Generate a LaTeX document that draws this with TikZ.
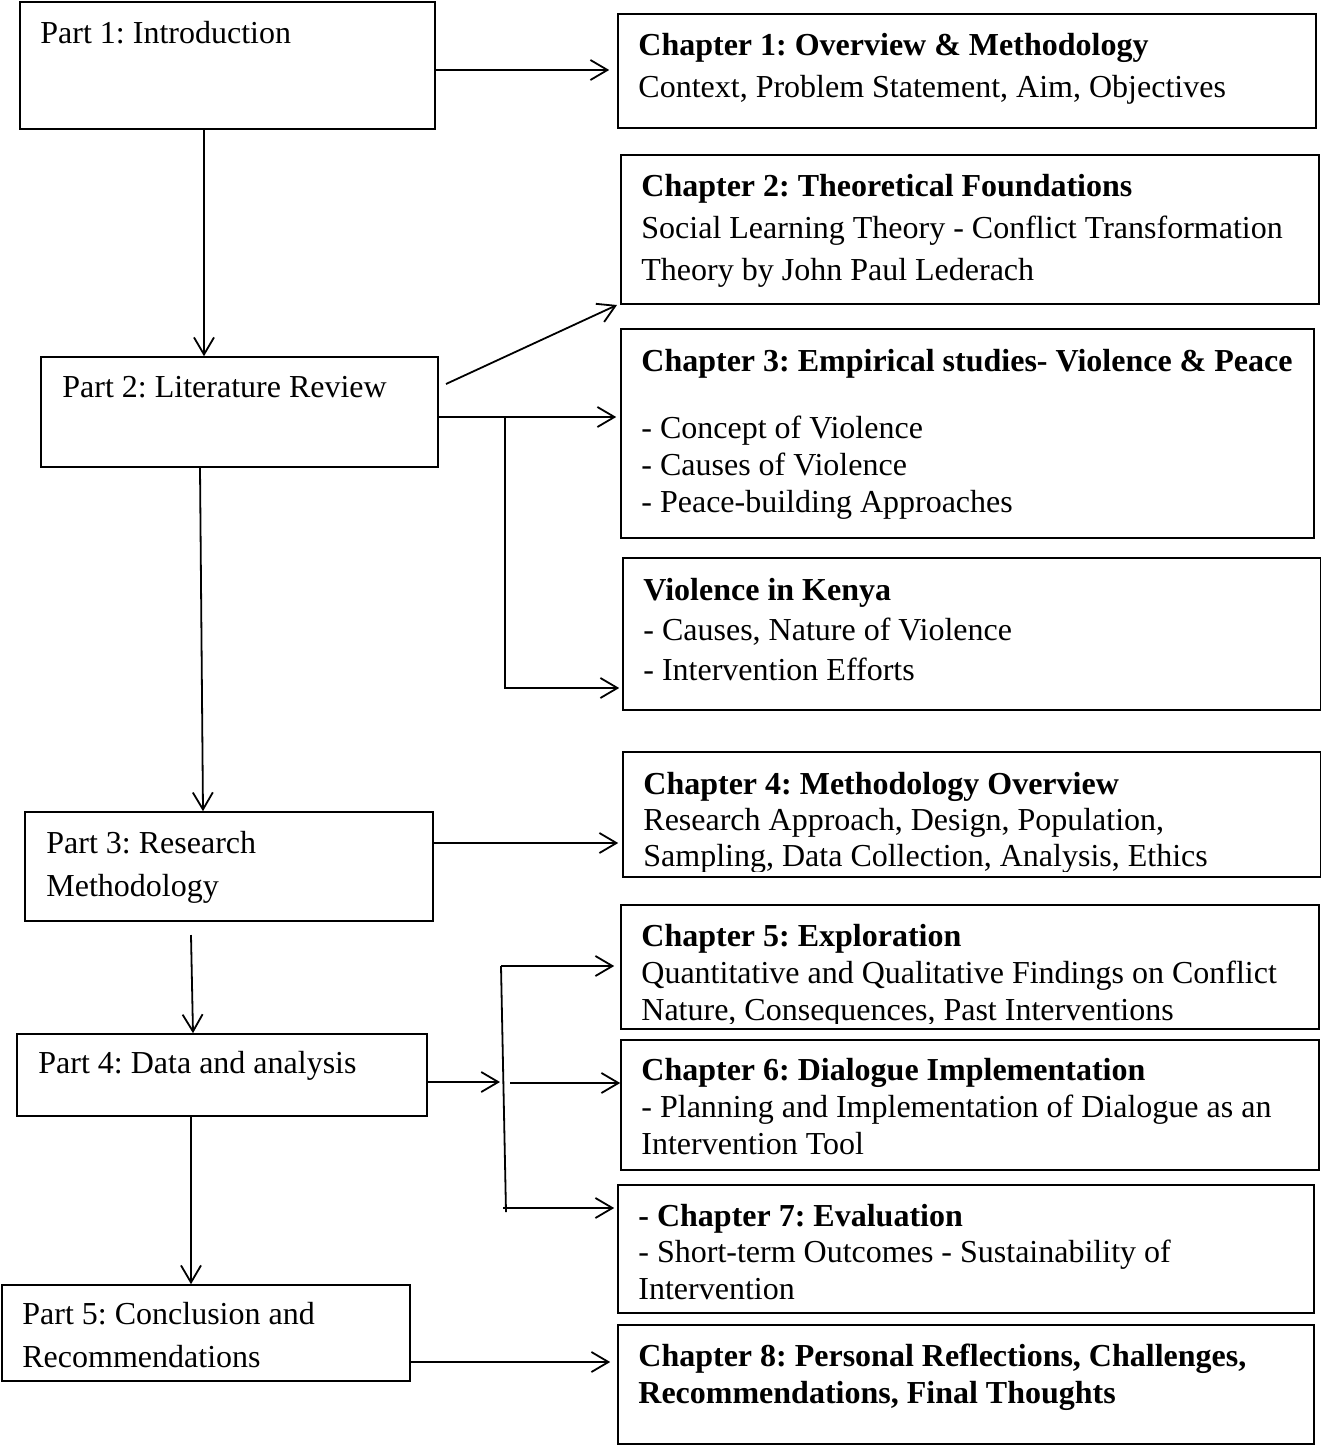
\documentclass[tikz,border=0pt]{standalone}
\usepackage{fontspec}
\setmainfont{Liberation Serif}
\frenchspacing
\usetikzlibrary{arrows.meta,fit,calc}
\begin{document}
\begin{tikzpicture}[x=0.5pt,y=-0.5pt,
  box/.style={draw, line width=0.8pt, inner sep=0pt},
  txt/.style={anchor=base west, inner sep=0pt, text width=345pt, align=flush left},
  sk/.style={font=\fontsize{16pt}{#1}\selectfont},
  ln/.style={line width=0.9pt},
  arr/.style={line width=0.9pt, -{Straight Barb[length=8.5pt,width=10pt,line width=0.9pt]}}]
\useasboundingbox (0,0) rectangle (1321,1446);
\fill[white] (0,0) rectangle (1321,1446);

% ---------- boxes ----------
\node[box, fit={(20,2) (435,129)}] (p1) {};
\node[box, fit={(41,357) (438,467)}] (p2) {};
\node[box, fit={(25,812) (433,921)}] (p3) {};
\node[box, fit={(17,1034) (427,1116)}] (p4) {};
\node[box, fit={(2,1285) (410,1381)}] (p5) {};

\node[box, fit={(618,14) (1316,128)}] (ch1) {};
\node[box, fit={(621,155) (1319,304)}] (ch2) {};
\node[box, fit={(621,329) (1314,538)}] (ch3) {};
\node[box, fit={(623,558) (1321,710)}] (kenya) {};
\node[box, fit={(623,752) (1321,877)}] (ch4) {};
\node[box, fit={(621,905) (1319,1029)}] (ch5) {};
\node[box, fit={(621,1040) (1319,1170)}] (ch6) {};
\node[box, fit={(618,1185) (1314,1313)}] (ch7) {};
\node[box, fit={(618,1325) (1314,1444)}] (ch8) {};

% ---------- texts ----------
\node[txt, sk=21pt] (tp1) at (40,43) {Part 1: Introduction};
\node[txt, sk=21pt] (tp2) at (62,397) {Part 2: Literature Review};
\node[txt, sk=21.5pt] (tp3) at (46,853) {Part 3: Research\\Methodology};
\node[txt, sk=21pt] (tp4) at (38,1073) {Part 4: Data and analysis};
\node[txt, sk=21.5pt] (tp5) at (22,1324) {Part 5: Conclusion and\\Recommendations};

\node[txt, sk=21pt] (tc1) at (638,55) {\textbf{Chapter 1: Overview \& Methodology}\\Context, Problem Statement, Aim, Objectives};
\node[txt, sk=21pt] (tc2) at (641,196) {\textbf{Chapter 2: Theoretical Foundations}\\Social Learning Theory - Conflict Transformation\\Theory by John Paul Lederach};
\node[txt, sk=18.5pt] (tc3) at (641,371) {\textbf{Chapter 3: Empirical studies- Violence \& Peace}\\[15pt]- Concept of Violence\\- Causes of Violence\\- Peace-building Approaches};
\node[txt, sk=20pt] (tk) at (643,600) {\textbf{Violence in Kenya}\\- Causes, Nature of Violence\\- Intervention Efforts};
\begin{scope}
\clip (623,752) rectangle (1321,871);
\node[txt, sk=18pt] (tc4) at (643,794) {\textbf{Chapter 4: Methodology Overview}\\Research Approach, Design, Population,\\Sampling, Data Collection, Analysis, Ethics};
\end{scope}
\begin{scope}
\clip (621,905) rectangle (1319,1023);
\node[txt, sk=18.5pt] (tc5) at (641,946) {\textbf{Chapter 5: Exploration}\\Quantitative and Qualitative Findings on Conflict\\Nature, Consequences, Past Interventions};
\end{scope}
\node[txt, sk=18.5pt] (tc6) at (641,1080) {\textbf{Chapter 6: Dialogue Implementation}\\- Planning and Implementation of Dialogue as an\\Intervention Tool};
\node[txt, sk=18.25pt] (tc7) at (638,1226) {\textbf{- Chapter 7: Evaluation}\\- Short-term Outcomes - Sustainability of\\Intervention};
\node[txt, sk=18.5pt] (tc8) at (638,1366) {\textbf{Chapter 8: Personal Reflections, Challenges,}\\\textbf{Recommendations, Final Thoughts}};

% ---------- connector points ----------
\coordinate (a1) at (0,70);
\coordinate (v1) at (204,0);
\coordinate (d1) at (446,384);
\coordinate (d2) at (617,305);
\coordinate (j2) at (505,417);
\coordinate (j2b) at (505,688);
\coordinate (v2a) at (200,0);
\coordinate (v2b) at (203,0);
\coordinate (a3) at (0,843);
\coordinate (v3a) at (191,935);
\coordinate (v3b) at (193,0);
\coordinate (b1) at (501,966);
\coordinate (b2) at (506,1212);
\coordinate (b3) at (503,1208);
\coordinate (bm) at (500,1082);
\coordinate (bs) at (510,1083);
\coordinate (v4) at (191,0);
\coordinate (a5) at (0,1362);

% ---------- connectors ----------
\draw[arr, shorten >=4pt] (p1.east |- a1) -- (a1 -| ch1.west);
\draw[arr] (p1.south -| v1) -- (p2.north -| v1);
\draw[arr] (d1) -- (d2);
\draw[arr, shorten >=2pt] (p2.east |- j2) -- (j2 -| ch3.west);
\draw[arr, shorten >=1.5pt] (j2) |- (kenya.west |- j2b);
\draw[arr] (p2.south -| v2a) -- (p3.north -| v2b);
\draw[arr, shorten >=2pt] (p3.east |- a3) -- (a3 -| ch4.west);
\draw[arr] (v3a) -- (p4.north -| v3b);
\draw[ln] (b1) -- (b2);
\draw[arr, shorten >=3pt] (b1) -- (b1 -| ch5.west);
\draw[arr] (p4.east |- bm) -- (bm);
\draw[arr] (bs) -- (bs -| ch6.west);
\draw[arr, shorten >=1.5pt] (b3) -- (b3 -| ch7.west);
\draw[arr] (p4.south -| v4) -- (p5.north -| v4);
\draw[arr, shorten >=3.5pt] (p5.east |- a5) -- (a5 -| ch8.west);
\end{tikzpicture}
\end{document}
